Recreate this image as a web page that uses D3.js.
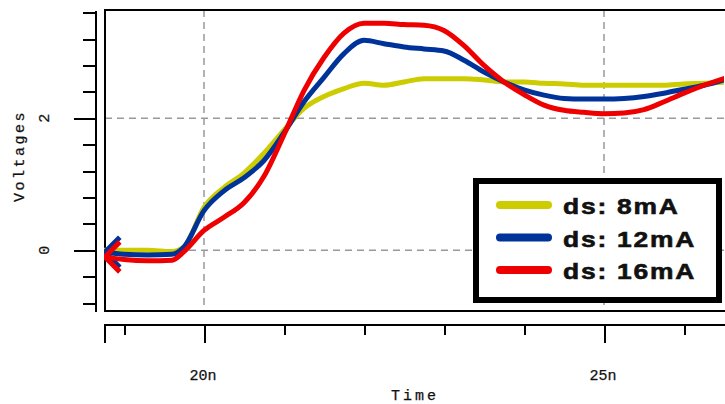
<!DOCTYPE html>
<html lang="en">
  <head>
    <meta charset="UTF-8">
    <title>Voltages vs Time</title>
    <script src="https://d3js.org/d3.v7.min.js"></script>
    <style>
      body {
        margin: 0;
        padding: 0;
        background-color: #fff;
      }

      .axis path,
      .axis line {
        fill: none;
        stroke: #000;
        stroke-width: 2px;
        shape-rendering: crispEdges;
      }

      .mono {
        font-family: 'Liberation Mono', 'DejaVu Sans Mono', monospace;
        font-size: 15px;
        fill: #111;
        stroke: #111;
        stroke-width: 0.25px;
      }

      .grid {
        stroke: #999;
        stroke-width: 1.5px;
        stroke-dasharray: 7,5;
      }

      .legend-text {
        font-family: 'Liberation Sans', Arial, sans-serif;
        font-weight: bold;
        font-size: 22px;
        letter-spacing: 1.5px;
        fill: #111;
        stroke: #111;
        stroke-width: 0.6px;
      }
    </style>
  </head>
  <body>
    <svg id="chart" width="725" height="404"></svg>
    <script>
      // time in ns
      const times = [18.76, 19.0, 19.3, 19.6, 19.75, 20.0, 20.25, 20.5, 20.75, 21.0, 21.25, 21.5, 21.75, 22.0, 22.25, 22.5,
        22.75, 23.0, 23.25, 23.5, 23.75, 24.0, 24.25, 24.5, 24.75, 25.0, 25.25, 25.5, 25.75, 26.0, 26.25, 26.55];
      const ds8mA = [0.0, 0.0, 0.0, -0.02, 0.05, 0.65, 0.95, 1.17, 1.47, 1.82, 2.15, 2.33, 2.45, 2.53, 2.5, 2.55,
        2.6, 2.6, 2.6, 2.58, 2.55, 2.55, 2.53, 2.52, 2.5, 2.5, 2.5, 2.5, 2.5, 2.52, 2.53, 2.55];
      const ds12mA = [-0.03, -0.06, -0.07, -0.06, 0.05, 0.6, 0.9, 1.1, 1.36, 1.78, 2.25, 2.62, 2.98, 3.18, 3.13, 3.08,
        3.05, 3.02, 2.88, 2.7, 2.55, 2.43, 2.35, 2.3, 2.29, 2.29, 2.3, 2.33, 2.38, 2.44, 2.5, 2.6];
      const ds16mA = [-0.1, -0.14, -0.16, -0.15, -0.02, 0.3, 0.5, 0.72, 1.12, 1.75, 2.42, 2.92, 3.29, 3.44, 3.44, 3.42,
        3.41, 3.33, 3.1, 2.8, 2.55, 2.36, 2.2, 2.12, 2.09, 2.07, 2.08, 2.13, 2.25, 2.38, 2.5, 2.62];
      const seriesNames = ["ds: 8mA", "ds: 12mA", "ds: 16mA"];
      const seriesColors = ["#cccc00", "#003399", "#ee0000"];
      const seriesArrow = [false, true, true];
      const xMajorTicks = [20, 25];
      const xMajorLabels = ["20n", "25n"];
      const xMinorTicks = [19, 21, 22, 23, 24, 26];
      const yMajorTicks = [0, 2];
      const yMinorTicks = [-0.8, -0.4, 0.4, 0.8, 1.2, 1.6, 2.4, 2.8, 3.2, 3.6];

      const series = [ds8mA, ds12mA, ds16mA].map((vals, i) => ({
        name: seriesNames[i],
        color: seriesColors[i],
        arrow: seriesArrow[i],
        values: vals.map((v, j) => ({ t: times[j], v: v }))
      }));

      const svg = d3.select("#chart");
      const plot = { left: 105, top: 10, right: 732, bottom: 311 };

      const x = d3.scaleLinear().domain([18.75, 26.6]).range([104, 732]);
      const y = d3.scaleLinear().domain([-0.92, 3.64]).range([plot.bottom, plot.top]);

      // grid
      svg.selectAll(".hgrid").data(yMajorTicks).enter().append("line").attr("class", "grid")
        .attr("x1", plot.left).attr("x2", plot.right).attr("y1", d => y(d)).attr("y2", d => y(d));
      svg.selectAll(".vgrid").data(xMajorTicks).enter().append("line").attr("class", "grid")
        .attr("x1", d => x(d)).attr("x2", d => x(d)).attr("y1", plot.top).attr("y2", plot.bottom);

      // frame
      svg.append("rect").attr("x", plot.left).attr("y", plot.top)
        .attr("width", plot.right - plot.left).attr("height", plot.bottom - plot.top)
        .attr("fill", "none").attr("stroke", "#000").attr("stroke-width", 2);

      // y axis (separate from frame)
      svg.append("g").attr("class", "axis").attr("transform", "translate(95,0)")
        .call(d3.axisLeft(y).tickValues(yMinorTicks).tickSize(12).tickSizeOuter(0).tickFormat(""));
      svg.append("g").attr("class", "axis").attr("transform", "translate(95,0)")
        .call(d3.axisLeft(y).tickValues(yMajorTicks).tickSize(21).tickSizeOuter(0).tickFormat(""));
      svg.selectAll(".ylab").data(yMajorTicks).enter().append("text").attr("class", "mono")
        .attr("text-anchor", "middle").attr("dominant-baseline", "central")
        .attr("transform", d => "translate(45," + y(d) + ") rotate(-90)").text(d => d);
      svg.append("text").attr("class", "mono").attr("text-anchor", "middle").attr("dominant-baseline", "central")
        .style("letter-spacing", "2.5px")
        .attr("transform", "translate(20,156) rotate(-90)").text("Voltages");

      // x axis (separate from frame)
      svg.append("g").attr("class", "axis").attr("transform", "translate(0,324)")
        .call(d3.axisBottom(x).tickValues(xMinorTicks).tickSize(11).tickSizeOuter(0).tickFormat(""));
      svg.append("g").attr("class", "axis").attr("transform", "translate(0,324)")
        .call(d3.axisBottom(x).tickValues([x.domain()[0]].concat(xMajorTicks)).tickSize(19).tickSizeOuter(0).tickFormat(""));
      svg.selectAll(".xlab").data(xMajorTicks).enter().append("text").attr("class", "mono")
        .attr("text-anchor", "middle").attr("x", d => x(d) - 1).attr("y", 380)
        .text((d, i) => xMajorLabels[i]);
      svg.append("text").attr("class", "mono").attr("text-anchor", "middle")
        .style("letter-spacing", "3px").attr("x", 415).attr("y", 400).text("Time");

      // curves
      svg.append("clipPath").attr("id", "clip").append("rect")
        .attr("x", plot.left - 1).attr("y", plot.top).attr("width", 725 - plot.left).attr("height", plot.bottom - plot.top);
      const lineGen = d3.line().x(d => x(d.t)).y(d => y(d.v)).curve(d3.curveMonotoneX);
      const curves = svg.append("g").attr("clip-path", "url(#clip)");
      series.forEach(s => {
        curves.append("path").datum(s.values).attr("d", lineGen)
          .attr("fill", "none").attr("stroke", s.color).attr("stroke-width", 5)
          .attr("stroke-linejoin", "round").attr("stroke-linecap", "round");
        if (!s.arrow) return;
        const p0 = s.values[0];
        const x0 = x(p0.t), y0 = y(p0.v);
        curves.append("path").attr("d", "M" + (x0 + 15) + "," + (y0 - 15) + "L" + x0 + "," + y0 + "L" + (x0 + 15) + "," + (y0 + 15))
          .attr("fill", "none").attr("stroke", s.color).attr("stroke-width", 5).attr("stroke-linejoin", "round");
      });

      // legend
      const legend = svg.append("g").attr("transform", "translate(476,181)");
      legend.append("rect").attr("width", 243).attr("height", 119)
        .attr("fill", "#fff").attr("stroke", "#000").attr("stroke-width", 6);
      const rows = legend.selectAll(".row").data(series).enter().append("g")
        .attr("transform", (d, i) => "translate(0," + (24 + i * 32.5) + ")");
      rows.append("line").attr("x1", 24).attr("x2", 72).attr("y1", 0).attr("y2", 0)
        .attr("stroke", d => d.color).attr("stroke-width", 8).attr("stroke-linecap", "round");
      rows.append("text").attr("class", "legend-text").attr("transform", "translate(87,9) scale(1.2,1)").text(d => d.name);
    </script>
  </body>
</html>
